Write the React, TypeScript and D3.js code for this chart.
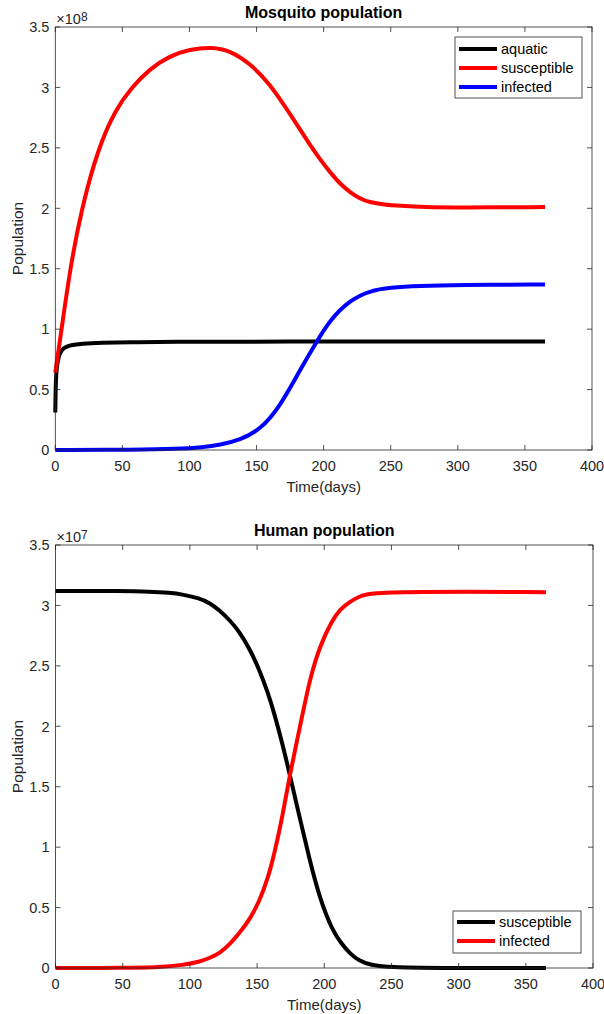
import { useEffect, useRef } from 'react';
import * as d3 from 'd3';

const WIDTH = 604;
const HEIGHT = 1014;
const FONT = '"Liberation Sans", Arial, sans-serif';
const TEXT = '#262626';

// Mosquito population (x1e8), [day, value]
const mosqAquatic: [number, number][] = [
  [0, 0.31], [0.3, 0.55], [1, 0.68], [2, 0.75], [3.5, 0.81], [7, 0.85], [11, 0.868], [20, 0.88],
  [33, 0.887], [60, 0.893], [85, 0.895], [150, 0.897], [365, 0.898],
];
const mosqSusceptible: [number, number][] = [
  [0, 0.64], [4.7, 1.0], [11, 1.5], [19.6, 2.0], [32, 2.5], [45, 2.82], [57, 3.0], [70, 3.15],
  [85, 3.26], [100, 3.315], [117, 3.335], [130, 3.305], [145, 3.2], [160, 3.03], [175, 2.78],
  [190, 2.52], [197, 2.41], [205, 2.295], [212, 2.205], [220, 2.13], [227, 2.08], [234, 2.05],
  [245, 2.03], [257, 2.02], [275, 2.01], [300, 2.006], [365, 2.01],
];
const mosqInfected: [number, number][] = [
  [0, 0], [60, 0.002], [90, 0.008], [110, 0.022], [122.7, 0.041], [137.6, 0.083], [152.5, 0.165],
  [167.4, 0.358], [182.3, 0.661], [194.7, 0.895], [204.6, 1.074], [219.5, 1.24], [234.4, 1.317],
  [249.3, 1.344], [271.6, 1.358], [300, 1.365], [365, 1.37],
];

// Human population (x1e7)
const humanSusceptible: [number, number][] = [
  [0, 3.12], [50, 3.12], [70, 3.115], [85, 3.105], [95, 3.09], [107, 3.06], [115, 3.02],
  [122, 2.96], [130, 2.875], [137, 2.78], [145, 2.63], [152, 2.46], [158, 2.28], [163, 2.1],
  [169, 1.85], [175, 1.57], [182, 1.23], [189, 0.9], [196.5, 0.58], [206, 0.31],
  [213, 0.2], [219, 0.12], [226, 0.06], [234, 0.025], [250, 0.005], [280, 0], [365, 0],
];
const humanInfected: [number, number][] = [
  [0, 0], [50, 0.001], [78, 0.005], [95, 0.025], [107, 0.05], [115, 0.085], [122, 0.12],
  [130, 0.2], [137, 0.29], [145, 0.41], [152, 0.56], [158, 0.74], [163, 0.95], [169, 1.26],
  [174, 1.58], [182, 2.0], [189, 2.38], [196.5, 2.66], [206, 2.88], [212, 2.97], [219, 3.03],
  [226, 3.075], [234, 3.1], [260, 3.115], [365, 3.11],
];

const xTicks = [0, 50, 100, 150, 200, 250, 300, 350, 400];
const yTicks = [0, 0.5, 1, 1.5, 2, 2.5, 3, 3.5];

type Series = { name: string; color: string; data: [number, number][] };

const panels = [
  {
    title: 'Mosquito population',
    exponent: '8',
    box: { left: 55.3, top: 27, right: 592, bottom: 450 },
    legend: { x: 455, y: 37, w: 127, rowY: [49, 68, 87], h: 61 },
    series: [
      { name: 'aquatic', color: '#000000', data: mosqAquatic },
      { name: 'susceptible', color: '#ff0000', data: mosqSusceptible },
      { name: 'infected', color: '#0000ff', data: mosqInfected },
    ] as Series[],
  },
  {
    title: 'Human population',
    exponent: '7',
    box: { left: 55.5, top: 545, right: 593, bottom: 968 },
    legend: { x: 453, y: 911, w: 128, rowY: [922, 941], h: 42 },
    series: [
      { name: 'susceptible', color: '#000000', data: humanSusceptible },
      { name: 'infected', color: '#ff0000', data: humanInfected },
    ] as Series[],
  },
];

export default function App() {
  const svgRef = useRef<SVGSVGElement>(null);

  useEffect(() => {
    if (!svgRef.current) return;
    const svg = d3.select(svgRef.current);
    svg.selectAll('*').remove();

    panels.forEach((p) => {
      const { left, top, right, bottom } = p.box;
      const x = d3.scaleLinear().domain([0, 400]).range([left, right]);
      const y = d3.scaleLinear().domain([0, 3.5]).range([bottom, top]);
      const g = svg.append('g');

      // curves
      const line = d3
        .line<[number, number]>()
        .x((d) => x(d[0]))
        .y((d) => y(d[1]))
        .curve(d3.curveBasis);
      p.series.forEach((s) => {
        g.append('path')
          .datum(s.data)
          .attr('fill', 'none')
          .attr('stroke', s.color)
          .attr('stroke-width', 4)
          .attr('stroke-linejoin', 'round')
          .attr('d', line);
      });

      // box + ticks
      g.append('rect')
        .attr('x', left)
        .attr('y', top)
        .attr('width', right - left)
        .attr('height', bottom - top)
        .attr('fill', 'none')
        .attr('stroke', TEXT)
        .attr('stroke-width', 0.8);

      xTicks.forEach((t) => {
        g.append('line').attr('x1', x(t)).attr('x2', x(t)).attr('y1', bottom).attr('y2', bottom - 5).attr('stroke', TEXT).attr('stroke-width', 0.8);
        g.append('line').attr('x1', x(t)).attr('x2', x(t)).attr('y1', top).attr('y2', top + 5).attr('stroke', TEXT).attr('stroke-width', 0.8);
        g.append('text')
          .attr('x', x(t))
          .attr('y', bottom + 20.5)
          .attr('text-anchor', 'middle')
          .attr('font-family', FONT)
          .attr('font-size', 14.5)
          .attr('fill', TEXT)
          .text(t);
      });
      yTicks.forEach((t) => {
        g.append('line').attr('x1', left).attr('x2', left + 5).attr('y1', y(t)).attr('y2', y(t)).attr('stroke', TEXT).attr('stroke-width', 0.8);
        g.append('line').attr('x1', right).attr('x2', right - 5).attr('y1', y(t)).attr('y2', y(t)).attr('stroke', TEXT).attr('stroke-width', 0.8);
        g.append('text')
          .attr('x', left - 6)
          .attr('y', y(t) + 5.3)
          .attr('text-anchor', 'end')
          .attr('font-family', FONT)
          .attr('font-size', 14.5)
          .attr('fill', TEXT)
          .text(t);
      });

      // exponent label
      const ex = g.append('text')
        .attr('x', left + 1)
        .attr('y', top - 3.5)
        .attr('font-family', FONT)
        .attr('font-size', 14.5)
        .attr('fill', TEXT);
      ex.append('tspan').text('×10');
      ex.append('tspan').attr('dy', -3).attr('font-size', 12).text(p.exponent);

      // title
      g.append('text')
        .attr('x', (left + right) / 2)
        .attr('y', top - 9)
        .attr('text-anchor', 'middle')
        .attr('font-family', FONT)
        .attr('font-size', 16)
        .attr('font-weight', 'bold')
        .attr('fill', '#000')
        .text(p.title);

      // axis labels
      g.append('text')
        .attr('x', (left + right) / 2)
        .attr('y', bottom + 42)
        .attr('text-anchor', 'middle')
        .attr('font-family', FONT)
        .attr('font-size', 15)
        .attr('fill', TEXT)
        .text('Time(days)');
      g.append('text')
        .attr('transform', `translate(22.5,${(top + bottom) / 2}) rotate(-90)`)
        .attr('text-anchor', 'middle')
        .attr('font-family', FONT)
        .attr('font-size', 15.5)
        .attr('fill', TEXT)
        .text('Population');

      // legend
      const L = p.legend;
      g.append('rect')
        .attr('x', L.x)
        .attr('y', L.y)
        .attr('width', L.w)
        .attr('height', L.h)
        .attr('fill', '#fff')
        .attr('stroke', TEXT)
        .attr('stroke-width', 0.8);
      p.series.forEach((s, i) => {
        const ry = L.rowY[i];
        g.append('line')
          .attr('x1', L.x + 4)
          .attr('x2', L.x + 42)
          .attr('y1', ry)
          .attr('y2', ry)
          .attr('stroke', s.color)
          .attr('stroke-width', 4);
        g.append('text')
          .attr('x', L.x + 46)
          .attr('y', ry + 5)
          .attr('font-family', FONT)
          .attr('font-size', 14.5)
          .attr('fill', '#000')
          .text(s.name);
      });
    });
  }, []);

  return (
    <svg
      ref={svgRef}
      width={WIDTH}
      height={HEIGHT}
      style={{ position: 'absolute', left: 0, top: 0, background: '#fff' }}
    />
  );
}
